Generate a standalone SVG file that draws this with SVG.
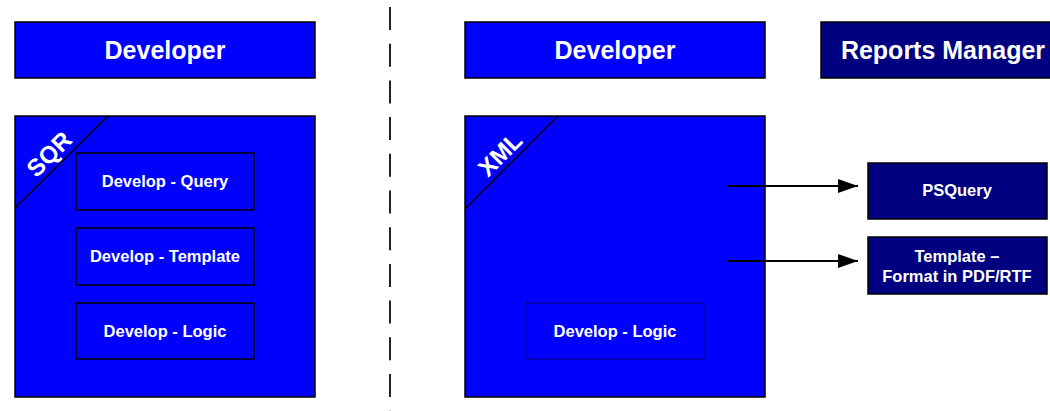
<svg xmlns="http://www.w3.org/2000/svg" width="1050" height="411" viewBox="0 0 1050 411">
<defs>
<style>
.blue{fill:#0000FF;stroke:#000;stroke-width:1.5}
.navy{fill:#000080;stroke:#000;stroke-width:1.5}
.inner{fill:none;stroke:#000;stroke-width:1.5}
.dotted{fill:none;stroke:#000;stroke-width:1;stroke-dasharray:2 2}
.hdr{font-family:"Liberation Sans",Arial,sans-serif;font-weight:bold;font-size:25px;fill:#fff;text-anchor:middle}
.lbl{font-family:"Liberation Sans",Arial,sans-serif;font-weight:bold;font-size:16.5px;fill:#fff;text-anchor:middle}
.tag{font-family:"Liberation Sans",Arial,sans-serif;font-weight:bold;font-size:24px;fill:#fff;text-anchor:middle}
.conn{stroke:#000;stroke-width:1.8;fill:none}
</style>
<marker id="arr" viewBox="0 0 20 14" refX="20" refY="7" markerWidth="20" markerHeight="14" markerUnits="userSpaceOnUse" orient="auto">
<path d="M0,0 L20,7 L0,14 Z" fill="#000"/>
</marker>
</defs>
<rect width="1050" height="411" fill="#fff"/>
<line x1="390" y1="7" x2="390" y2="411" stroke="#222" stroke-width="2" stroke-dasharray="23 13.7"/>
<g id="hdr-dev-left">
<rect class="blue" x="15" y="22" width="300" height="56"/>
<text class="hdr" x="165" y="59">Developer</text>
</g>
<g id="sqr-box">
<rect class="blue" x="15" y="116" width="300" height="281"/>
<line class="inner" x1="15" y1="208" x2="108" y2="116"/>
<text class="tag" transform="translate(55,160) rotate(-45)">SQR</text>
</g>
<g id="dev-query">
<rect class="inner" x="76" y="153" width="178" height="57"/>
<text class="lbl" x="165" y="187">Develop - Query</text>
</g>
<g id="dev-template">
<rect class="inner" x="76" y="228" width="178" height="57"/>
<text class="lbl" x="165" y="262">Develop - Template</text>
</g>
<g id="dev-logic-left">
<rect class="inner" x="76" y="303" width="178" height="56"/>
<text class="lbl" x="165" y="337">Develop - Logic</text>
</g>
<g id="hdr-dev-right">
<rect class="blue" x="465" y="22" width="300" height="56"/>
<text class="hdr" x="615" y="59">Developer</text>
</g>
<g id="hdr-reports">
<rect class="navy" x="821" y="22" width="250" height="56"/>
<text class="hdr" x="943" y="59">Reports Manager</text>
</g>
<g id="xml-box">
<rect class="blue" x="465" y="116" width="300" height="281"/>
<line class="inner" x1="465" y1="209" x2="558" y2="116"/>
<text class="tag" transform="translate(506,160) rotate(-45)">XML</text>
</g>
<g id="dev-logic-right">
<rect class="dotted" x="526" y="303" width="178" height="56"/>
<text class="lbl" x="615" y="337">Develop - Logic</text>
</g>
<g id="psquery">
<rect class="navy" x="868" y="163" width="179" height="56"/>
<text class="lbl" x="957" y="196">PSQuery</text>
</g>
<g id="template-fmt">
<rect class="navy" x="868" y="237" width="179" height="57"/>
<text class="lbl" x="957" y="262">Template –</text>
<text class="lbl" x="957" y="282">Format in PDF/RTF</text>
</g>
<g id="connectors">
<line class="conn" x1="727" y1="186" x2="858" y2="186" marker-end="url(#arr)"/>
<line class="conn" x1="727" y1="261" x2="858" y2="261" marker-end="url(#arr)"/>
</g>
</svg>
